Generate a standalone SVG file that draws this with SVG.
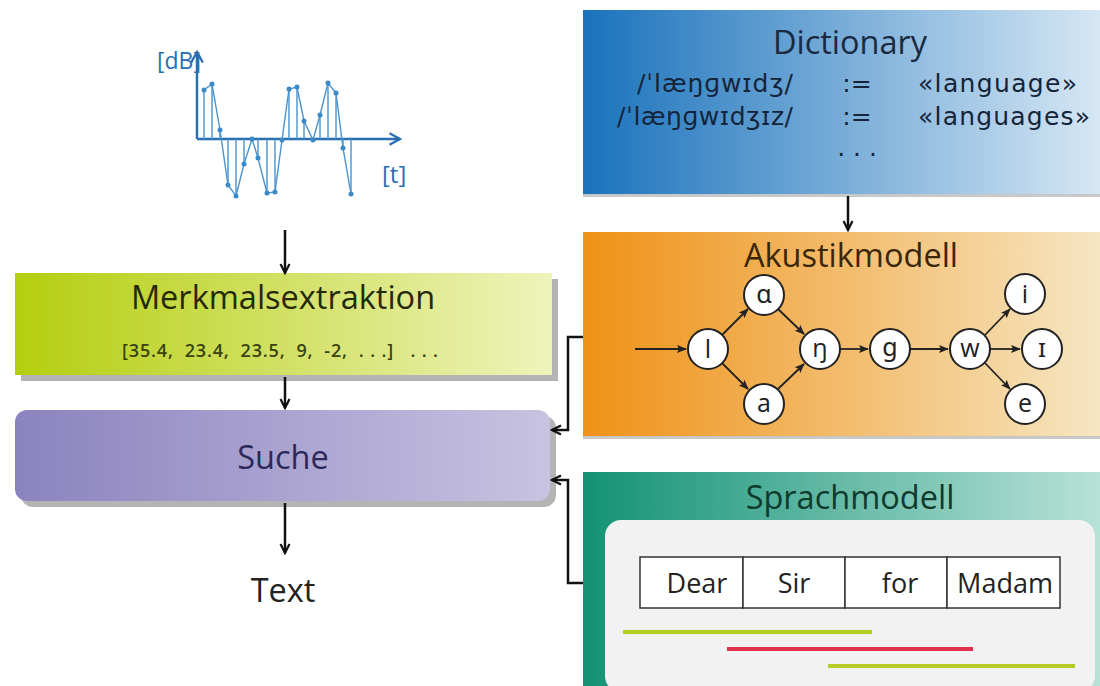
<svg xmlns="http://www.w3.org/2000/svg" width="1100" height="686" viewBox="0 0 1100 686">
<defs>
<style>
text{font-family:"Open Sans","Noto Sans","DejaVu Sans",sans-serif;}
.title{font-size:32.5px;text-anchor:middle;}
.conn{stroke:#111;stroke-width:2.5;fill:none;}
.node circle{fill:#fff;stroke:#222;stroke-width:2;}
.node text{font-size:25px;text-anchor:middle;fill:#222;}
.ac{stroke:#222;stroke-width:1.8;fill:none;}
.sig{stroke:#4a93cc;stroke-width:1.4;fill:none;}
.cell{fill:#fff;stroke:#333;stroke-width:1.5;}
.celltxt{font-size:27px;text-anchor:middle;fill:#222;}
.dict{font-family:"DejaVu Sans","Noto Sans",sans-serif;font-size:25px;fill:#14243a;}
</style>
<linearGradient id="gDict" x1="0" y1="0" x2="1" y2="0"><stop offset="0" stop-color="#1a72bc"/><stop offset="1" stop-color="#d6e7f4"/></linearGradient>
<linearGradient id="gAk" x1="0" y1="0" x2="1" y2="0"><stop offset="0" stop-color="#ef9116"/><stop offset="1" stop-color="#f6e6c2"/></linearGradient>
<linearGradient id="gSp" x1="0" y1="0" x2="1" y2="0"><stop offset="0" stop-color="#139274"/><stop offset="1" stop-color="#b8e2d8"/></linearGradient>
<linearGradient id="gMe" x1="0" y1="0" x2="1" y2="0"><stop offset="0" stop-color="#b4ce0e"/><stop offset="1" stop-color="#eff3bc"/></linearGradient>
<linearGradient id="gSu" x1="0" y1="0" x2="1" y2="0"><stop offset="0" stop-color="#8b83bf"/><stop offset="1" stop-color="#c8c3e1"/></linearGradient>
<marker id="arr" viewBox="0 0 12 12" refX="10" refY="6" markerWidth="12" markerHeight="12" markerUnits="userSpaceOnUse" orient="auto">
<path d="M1,1.5 L10,6 L1,10.5" fill="none" stroke="#111" stroke-width="2.2"/>
</marker>
<marker id="arrs" viewBox="0 0 10 10" refX="9" refY="5" markerWidth="10" markerHeight="10" markerUnits="userSpaceOnUse" orient="auto">
<path d="M0,1 L10,5 L0,9 L2,5 Z" fill="#222"/>
</marker>
<marker id="arrb" viewBox="0 0 12 12" refX="10" refY="6" markerWidth="14" markerHeight="14" markerUnits="userSpaceOnUse" orient="auto">
<path d="M1,1 L10,6 L1,11" fill="none" stroke="#2a6fb0" stroke-width="2"/>
</marker>
</defs>
<rect width="1100" height="686" fill="#fff"/>

<g id="signal">
<line x1="197" y1="139" x2="197" y2="52" marker-end="url(#arrb)" stroke="#2a6fb0" stroke-width="2.5"/>
<line x1="197" y1="139" x2="400" y2="139" marker-end="url(#arrb)" stroke="#2a6fb0" stroke-width="2.5"/>
<path class="sig" d="M204,139V90M212,139V84M220,139V130M228,139V185M236,139V196M244,139V164M258,139V158M267,139V193M275,139V192M289,139V89M297,139V87M304,139V121M320,139V115M328,139V83M336,139V93M343,139V148M351,139V194"/>
<polyline class="sig" points="204,90 212,84 220,130 228,185 236,196 244,164 252,139 258,158 267,193 275,192 282,140 289,89 297,87 304,121 313,140 320,115 328,83 336,93 343,148 351,194"/>
<g fill="#3a8ac8">
<circle cx="204" cy="90" r="2.5"/><circle cx="212" cy="84" r="2.5"/><circle cx="220" cy="130" r="2.5"/><circle cx="228" cy="185" r="2.5"/><circle cx="236" cy="196" r="2.5"/><circle cx="244" cy="164" r="2.5"/><circle cx="252" cy="139" r="2.5"/><circle cx="258" cy="158" r="2.5"/><circle cx="267" cy="193" r="2.5"/><circle cx="275" cy="192" r="2.5"/><circle cx="282" cy="140" r="2.5"/><circle cx="289" cy="89" r="2.5"/><circle cx="297" cy="87" r="2.5"/><circle cx="304" cy="121" r="2.5"/><circle cx="313" cy="140" r="2.5"/><circle cx="320" cy="115" r="2.5"/><circle cx="328" cy="83" r="2.5"/><circle cx="336" cy="93" r="2.5"/><circle cx="343" cy="148" r="2.5"/><circle cx="351" cy="194" r="2.5"/>
</g>
<text x="157" y="69" font-size="23" fill="#2a6fb0">[dB]</text>
<text x="382" y="183" font-size="24" fill="#2a6fb0">[t]</text>
</g>

<g id="dictionary">
<rect x="583" y="12" width="517" height="185" fill="#c8c8c8"/>
<rect x="583" y="10" width="517" height="184" fill="url(#gDict)"/>
<text class="title" x="850" y="54" fill="#1a2a40">Dictionary</text>
<text class="dict" x="637" y="92" textLength="156" lengthAdjust="spacing">/ˈlæŋɡwɪdʒ/</text>
<text class="dict" x="857" y="92" text-anchor="middle">:=</text>
<text class="dict" x="918" y="92" textLength="159" lengthAdjust="spacing">«language»</text>
<text class="dict" x="617" y="125" textLength="176" lengthAdjust="spacing">/ˈlæŋɡwɪdʒɪz/</text>
<text class="dict" x="857" y="125" text-anchor="middle">:=</text>
<text class="dict" x="918" y="125" textLength="172" lengthAdjust="spacing">«languages»</text>
<text class="dict" x="857" y="163" text-anchor="middle">· · ·</text>
</g>

<g id="akustikmodell">
<rect x="583" y="234" width="517" height="205" fill="#c8c8c8"/>
<rect x="583" y="232" width="517" height="204" fill="url(#gAk)"/>
<text class="title" x="851" y="267" fill="#3a2608">Akustikmodell</text>
<g class="ac">
<line x1="635" y1="349" x2="686" y2="349" marker-end="url(#arrs)"/>
<line x1="722" y1="335" x2="748" y2="309" marker-end="url(#arrs)"/>
<line x1="722" y1="363" x2="748" y2="389" marker-end="url(#arrs)"/>
<line x1="778" y1="309" x2="804" y2="334" marker-end="url(#arrs)"/>
<line x1="778" y1="389" x2="804" y2="364" marker-end="url(#arrs)"/>
<line x1="840" y1="349" x2="868" y2="349" marker-end="url(#arrs)"/>
<line x1="910" y1="349" x2="948" y2="349" marker-end="url(#arrs)"/>
<line x1="985" y1="335" x2="1010" y2="309" marker-end="url(#arrs)"/>
<line x1="990" y1="349" x2="1020" y2="349" marker-end="url(#arrs)"/>
<line x1="985" y1="363" x2="1010" y2="389" marker-end="url(#arrs)"/>
</g>
</g>
<g id="n_l" class="node"><circle cx="708" cy="349" r="20"/><text x="708" y="358">l</text></g>
<g id="n_alpha" class="node"><circle cx="764" cy="295" r="20"/><text x="764" y="303">ɑ</text></g>
<g id="n_a" class="node"><circle cx="764" cy="404" r="20"/><text x="764" y="412">a</text></g>
<g id="n_eng" class="node"><circle cx="820" cy="349" r="20"/><text x="820" y="357">ŋ</text></g>
<g id="n_g" class="node"><circle cx="890" cy="349" r="20"/><text x="890" y="356">ɡ</text></g>
<g id="n_w" class="node"><circle cx="970" cy="349" r="20"/><text x="970" y="357">w</text></g>
<g id="n_i" class="node"><circle cx="1025" cy="294" r="20"/><text x="1025" y="303">i</text></g>
<g id="n_ih" class="node"><circle cx="1042" cy="349" r="20"/><text x="1042" y="357">ɪ</text></g>
<g id="n_e" class="node"><circle cx="1025" cy="404" r="20"/><text x="1025" y="412">e</text></g>

<g id="sprachmodell">
<rect x="583" y="472" width="517" height="214" fill="url(#gSp)"/>
<text class="title" x="850" y="509" fill="#0f3a2e">Sprachmodell</text>
<rect x="605" y="520" width="490" height="172" rx="16" fill="#f1f2f1"/>
<rect class="cell" x="640" y="557" width="103" height="51"/>
<rect class="cell" x="743" y="557" width="102" height="51"/>
<rect class="cell" x="845" y="557" width="102" height="51"/>
<rect class="cell" x="947" y="557" width="113" height="51"/>
<text class="celltxt" x="697" y="593">Dear</text>
<text class="celltxt" x="794" y="593">Sir</text>
<text class="celltxt" x="900" y="593">for</text>
<text class="celltxt" x="1005" y="593">Madam</text>
<line x1="623" y1="632" x2="872" y2="632" stroke="#b8cc28" stroke-width="4"/>
<line x1="727" y1="649" x2="973" y2="649" stroke="#e0304a" stroke-width="4"/>
<line x1="828" y1="666" x2="1075" y2="666" stroke="#b8cc28" stroke-width="4"/>
</g>

<g id="merkmalsextraktion">
<rect x="21" y="279" width="537" height="102" fill="#b4b4b4"/>
<rect x="15" y="273" width="537" height="102" fill="url(#gMe)"/>
<text class="title" x="283" y="309" fill="#25290a">Merkmalsextraktion</text>
<text x="122" y="357" font-size="18" font-weight="600" fill="#3a4212" textLength="316" lengthAdjust="spacing" style="white-space:pre">[35.4,  23.4,  23.5,  9,  -2,  . . .]   . . .</text>
</g>

<g id="suche">
<rect x="21" y="416" width="535" height="91" rx="12" fill="#b4b4b4"/>
<rect x="15" y="410" width="535" height="91" rx="12" fill="url(#gSu)"/>
<text class="title" x="283" y="469" fill="#2d285a">Suche</text>
</g>

<g id="text_out">
<text class="title" x="283" y="602" fill="#222">Text</text>
</g>

<g id="connectors">
<line class="conn" x1="285" y1="230" x2="285" y2="273" marker-end="url(#arr)"/>
<line class="conn" x1="285" y1="377" x2="285" y2="408" marker-end="url(#arr)"/>
<line class="conn" x1="285" y1="503" x2="285" y2="553" marker-end="url(#arr)"/>
<line class="conn" x1="848" y1="196" x2="848" y2="230" marker-end="url(#arr)"/>
<polyline class="conn" points="583,337 568,337 568,430 552,430" marker-end="url(#arr)"/>
<polyline class="conn" points="583,583 568,583 568,480 552,480" marker-end="url(#arr)"/>
</g>
</svg>
